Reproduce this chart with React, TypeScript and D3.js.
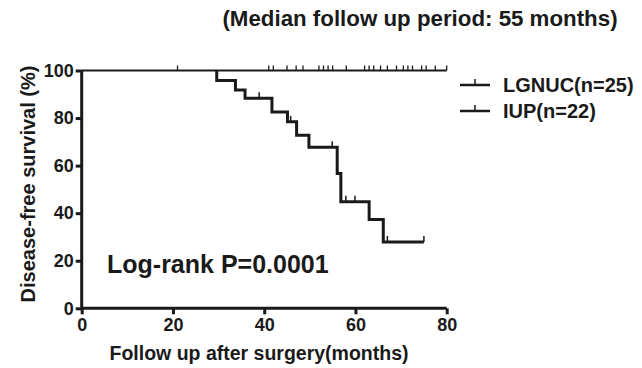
import React, { useRef, useEffect } from 'react';
import * as d3 from 'd3';

// LGNUC: no events, censor marks only (months)
const lgnucCensor = [21, 41, 42, 45, 47, 48.5, 52, 53, 54, 55, 58, 62, 63, 64, 65.5, 67, 69, 70.5, 71.5, 72.5, 74.5, 75.5, 77.5, 80];
const lgnucEnd = 80;

// IUP: event times and survival after each step
const iupTimes = [29.6, 33.7, 35.8, 41.7, 45.1, 47.1, 49.8, 56, 56.8, 63, 66.1];
const iupSurv = [95.8, 91.8, 88.3, 82.6, 78.4, 72.8, 67.7, 56.7, 44.8, 37.3, 27.9];
const iupCensor = [38.9, 45.8, 54.9, 57.9, 59.9, 67, 75];
const iupEnd = 75;

const xTicks = [0, 20, 40, 60, 80];
const yTicks = [0, 20, 40, 60, 80, 100];
const legendLabels = ['LGNUC(n=25)', 'IUP(n=22)'];

const W = 642;
const H = 368;
const ink = '#1a1a1a';
const font = '"Liberation Sans", Arial, sans-serif';

const App = () => {
  const ref = useRef<SVGSVGElement>(null);

  useEffect(() => {
    const svg = d3.select(ref.current);
    svg.selectAll('*').remove();

    const x = d3.scaleLinear().domain([0, 80]).range([81.7, 446.7]);
    const y = d3.scaleLinear().domain([0, 100]).range([308.3, 70.5]);

    // step survival at time t
    const survAt = (t: number) => {
      let s = 100;
      iupTimes.forEach((et, i) => {
        if (et <= t) s = iupSurv[i];
      });
      return s;
    };

    const g = svg.append('g');

    // LGNUC curve
    g.append('path')
      .attr('d', d3.line()([[x(0), y(100)], [x(lgnucEnd), y(100)]]))
      .attr('stroke', ink)
      .attr('stroke-width', 1.8)
      .attr('fill', 'none');
    g.selectAll('.lc')
      .data(lgnucCensor)
      .join('line')
      .attr('x1', (d) => x(d))
      .attr('x2', (d) => x(d))
      .attr('y1', y(100))
      .attr('y2', y(100) - 5)
      .attr('stroke', ink)
      .attr('stroke-width', 1.3);

    // IUP curve (its 100% stretch sits under the LGNUC line)
    const pts: [number, number][] = [[iupTimes[0], 100]];
    iupTimes.forEach((t, i) => pts.push([t, iupSurv[i]]));
    pts.push([iupEnd, iupSurv[iupSurv.length - 1]]);
    const step = d3
      .line<[number, number]>()
      .x((d) => x(d[0]))
      .y((d) => y(d[1]))
      .curve(d3.curveStepAfter);
    g.append('path')
      .attr('d', step(pts))
      .attr('stroke', ink)
      .attr('stroke-width', 3)
      .attr('stroke-linejoin', 'miter')
      .attr('fill', 'none');
    g.selectAll('.ic')
      .data(iupCensor)
      .join('line')
      .attr('x1', (d) => x(d))
      .attr('x2', (d) => x(d))
      .attr('y1', (d) => y(survAt(d)))
      .attr('y2', (d) => y(survAt(d)) - 6)
      .attr('stroke', ink)
      .attr('stroke-width', 1.5);

    // axes
    const xAxis = svg
      .append('g')
      .attr('transform', `translate(0,${y(0)})`)
      .call(d3.axisBottom(x).tickValues(xTicks).tickSize(6).tickPadding(4));
    const yAxis = svg
      .append('g')
      .attr('transform', `translate(${x(0)},0)`)
      .call(d3.axisLeft(y).tickValues(yTicks).tickSize(6).tickPadding(2));
    [xAxis, yAxis].forEach((a) => {
      a.select('.domain').attr('stroke', ink).attr('stroke-width', 3);
      a.selectAll('.tick line').attr('stroke', ink).attr('stroke-width', 3);
      a.selectAll('.tick text')
        .attr('fill', ink)
        .style('font-family', font)
        .style('font-weight', 'bold')
        .style('font-size', '18px');
    });
    xAxis.select('.domain').attr('d', `M${x(0)},0H${x(80)}`);
    yAxis.select('.domain').attr('d', `M0,${y(0)}V${y(100)}`);

    // labels
    svg.append('text')
      .attr('x', 259)
      .attr('y', 360)
      .attr('text-anchor', 'middle')
      .style('font-size', '19.5px')
      .text('Follow up after surgery(months)');
    svg.append('text')
      .attr('transform', 'translate(35,184) rotate(-90)')
      .attr('text-anchor', 'middle')
      .style('font-size', '20px')
      .text('Disease-free survival (%)');
    svg.append('text')
      .attr('x', 420)
      .attr('y', 26)
      .attr('text-anchor', 'middle')
      .style('font-size', '22.3px')
      .text('(Median follow up period: 55 months)');
    svg.append('text')
      .attr('x', 107)
      .attr('y', 273)
      .style('font-size', '25px')
      .text('Log-rank P=0.0001');

    // legend
    const lg = svg
      .selectAll('.lg')
      .data(legendLabels)
      .join('g')
      .attr('transform', (d, i) => `translate(460,${85 + i * 26})`);
    lg.append('line').attr('x1', 0).attr('x2', 30).attr('stroke', ink).attr('stroke-width', 2.5);
    lg.append('line').attr('x1', 15).attr('x2', 15).attr('y1', 0).attr('y2', -6).attr('stroke', ink).attr('stroke-width', 1.5);
    lg.append('text').attr('x', 43).attr('y', 7).style('font-size', '20px').text((d) => d);

    svg.selectAll('text:not(.tick text)')
      .attr('fill', ink)
      .style('font-family', font)
      .style('font-weight', 'bold');
    svg.selectAll('text').filter(function () {
      return !(this as SVGTextElement).style.fontSize;
    }).style('font-size', '18px');
  });

  return (
    <div>
      <svg ref={ref} width={W} height={H} style={{ position: 'absolute', left: 0, top: 0, background: '#fff' }}></svg>
    </div>
  );
};

export default App;
